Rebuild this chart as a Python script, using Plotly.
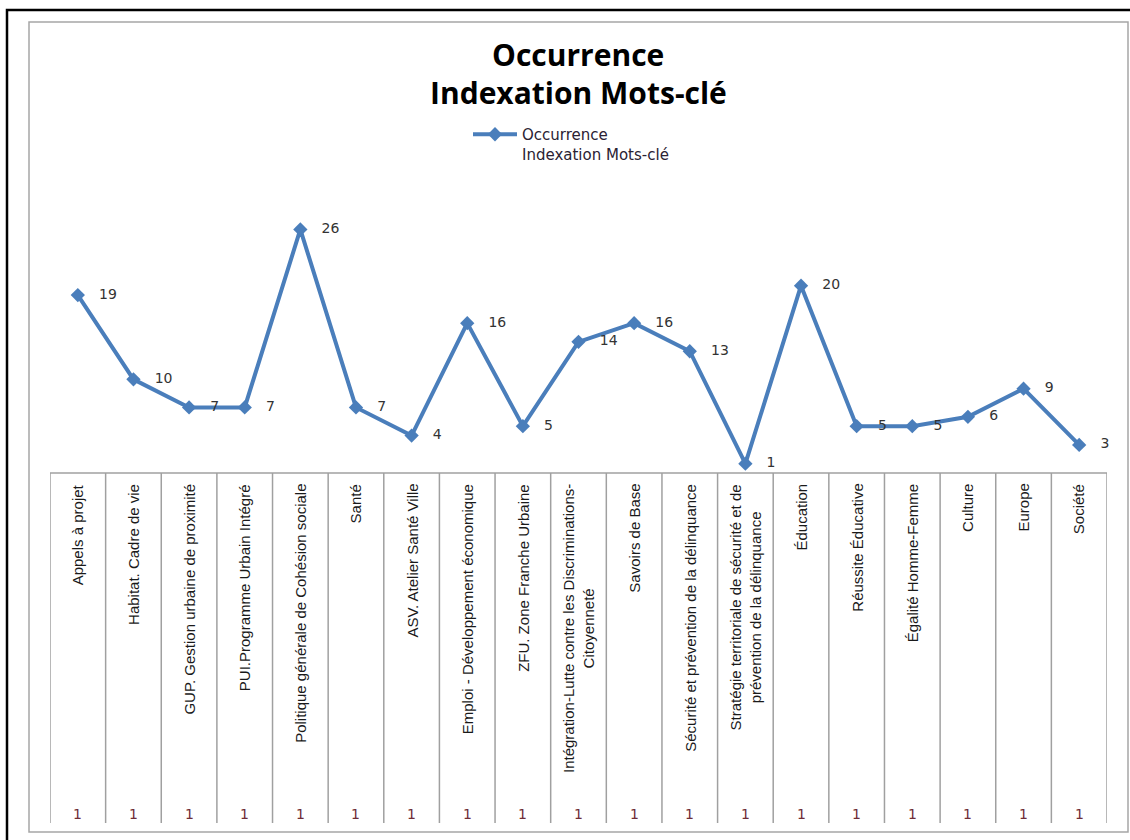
import plotly.graph_objects as go

categories = [
    "Appels à projet",
    "Habitat. Cadre de vie",
    "GUP. Gestion urbaine de proximité",
    "PUI.Programme Urbain Intégré",
    "Politique générale de Cohésion sociale",
    "Santé",
    "ASV. Atelier Santé Ville",
    "Emploi - Développement économique",
    "ZFU. Zone Franche Urbaine",
    "Intégration-Lutte contre les Discriminations-<br>Citoyenneté",
    "Savoirs de Base",
    "Sécurité et prévention de la délinquance",
    "Stratégie territoriale de sécurité et de<br>prévention de la délinquance",
    "Éducation",
    "Réussite Éducative",
    "Égalité Homme-Femme",
    "Culture",
    "Europe",
    "Société",
]
occurrences = [19, 10, 7, 7, 26, 7, 4, 16, 5, 14, 16, 13, 1, 20, 5, 5, 6, 9, 3]
table_row = [1] * len(categories)
series_name = "Occurrence<br>Indexation Mots-clé"
title_lines = ["Occurrence", "Indexation Mots-clé"]

W, H = 1130, 840
def px(x):
    return x / W
def py(y):
    return 1 - y / H

n = len(categories)
xs = list(range(n))

fig = go.Figure()
fig.add_trace(go.Scatter(
    x=xs, y=occurrences, mode="lines+markers+text",
    name=series_name,
    line=dict(color="#4A7EBB", width=4),
    marker=dict(symbol="diamond", size=11, color="#4A7EBB"),
    texttemplate="   %{y}", textposition="middle right",
    textfont=dict(family="DejaVu Sans", size=14, color="#333333"),
    cliponaxis=False,
))

shapes = []
# outer black frame
shapes.append(dict(type="rect", xref="paper", yref="paper",
                   x0=px(7), x1=px(1140), y0=py(850), y1=py(10),
                   line=dict(color="#000000", width=2.5)))
# inner gray chart frame
shapes.append(dict(type="rect", xref="paper", yref="paper",
                   x0=px(29), x1=px(1128), y0=py(832), y1=py(22),
                   line=dict(color="#a6a6a6", width=1.5)))
# table top line
shapes.append(dict(type="line", xref="x", yref="paper",
                   x0=-0.5, x1=n - 0.5, y0=py(473), y1=py(473),
                   line=dict(color="#a0a0a0", width=1.5)))
for i in range(n + 1):
    shapes.append(dict(type="line", xref="x", yref="paper",
                       x0=i - 0.5, x1=i - 0.5, y0=py(473), y1=py(823),
                       line=dict(color="#a0a0a0", width=1.5)))

annotations = []
for i, (c, v) in enumerate(zip(categories, table_row)):
    annotations.append(dict(
        x=i, xref="x", y=py(482), yref="paper", text=c, textangle=-90,
        xanchor="center", yanchor="top", showarrow=False, align="center",
        font=dict(family="Liberation Sans, Arial", size=15, color="#1a1a1a"),
    ))
    annotations.append(dict(
        x=i, xref="x", y=py(814), yref="paper", text=str(v),
        xanchor="center", yanchor="middle", showarrow=False,
        font=dict(family="DejaVu Sans", size=14, color="#6e2e38"),
    ))

for line, yc in zip(title_lines, [55, 92]):
    annotations.append(dict(
        x=px(578), xref="paper", y=py(yc), yref="paper", text="<b>" + line + "</b>",
        xanchor="center", yanchor="middle", showarrow=False, align="center",
        font=dict(family="Open Sans", size=30, color="#000000"),
    ))

fig.update_layout(
    width=W, height=H, margin=dict(l=0, r=0, t=0, b=0),
    paper_bgcolor="white", plot_bgcolor="white",
    xaxis=dict(domain=[px(50), px(1107)], range=[-0.5, n - 0.5], visible=False),
    yaxis=dict(domain=[py(473), py(192)], range=[0, 30], visible=False),
    showlegend=True,
    legend=dict(x=px(468), y=py(118), xanchor="left", yanchor="top",
                valign="top", bgcolor="rgba(0,0,0,0)", itemwidth=44,
                font=dict(family="DejaVu Sans", size=15, color="#2a2233")),
    shapes=shapes, annotations=annotations,
)

fig.write_html("out.html")
